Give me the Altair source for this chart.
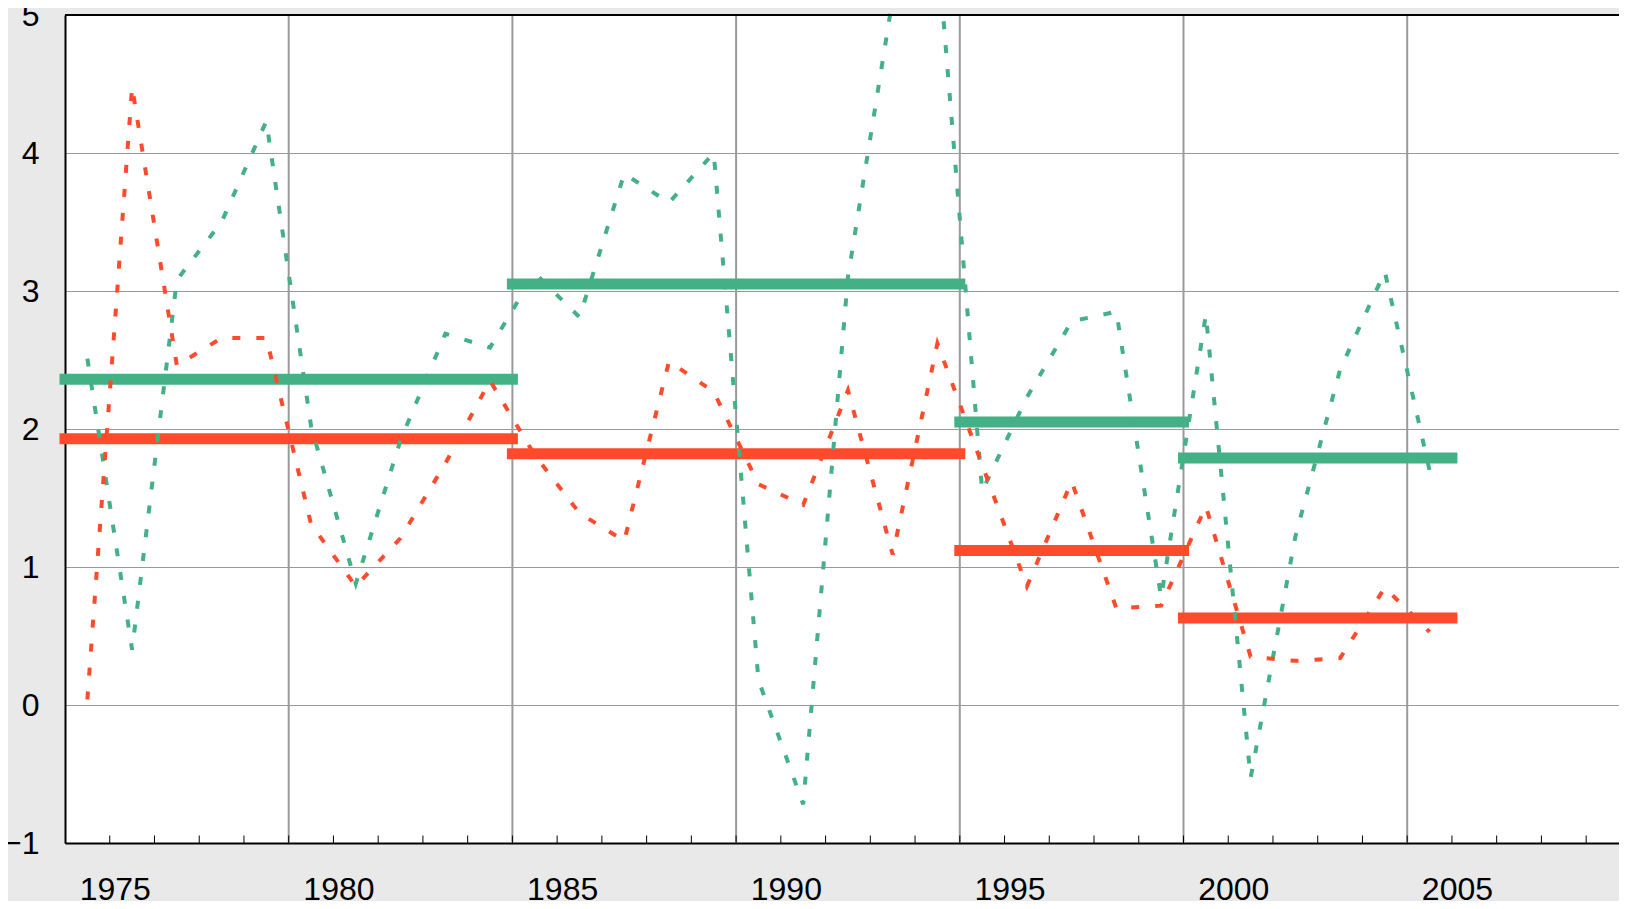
import altair as alt
import pandas as pd

# ---- data ----
years = [1974.5 + i for i in range(31)]
green_series = [2.51, 0.40, 3.08, 3.50, 4.23, 2.02, 0.88, 1.92, 2.69, 2.59,
                3.13, 2.81, 3.85, 3.64, 4.00, 0.18, -0.72, 3.10, 5.12, 5.50,
                1.55, 2.23, 2.78, 2.85, 0.78, 2.83, -0.53, 1.22, 2.43, 3.14, 1.70]
red_series = [0.04, 4.48, 2.46, 2.66, 2.66, 1.31, 0.86, 1.21, 1.75, 2.35,
              1.81, 1.39, 1.19, 2.49, 2.27, 1.60, 1.45, 2.28, 1.09, 2.62,
              1.74, 0.86, 1.62, 0.70, 0.72, 1.44, 0.35, 0.32, 0.34, 0.85, 0.53]

period_start = [1974, 1984, 1994, 1999]
period_end = [1984, 1994, 1999, 2005]
green_mean = [2.36, 3.05, 2.05, 1.79]
red_mean = [1.93, 1.82, 1.12, 0.63]

label_years = [1975, 1980, 1985, 1990, 1995, 2000, 2005]
grid_years = [1979, 1984, 1989, 1994, 1999, 2004]
minor_years = list(range(1975, 2009))
y_ticks = [-1, 0, 1, 2, 3, 4, 5]

GREEN = "#44b085"
RED = "#ff4b2b"
FONT = "Liberation Sans"

PX_PER_YEAR = 44.74
W = 1554
H = 828
X_MAX = 1974 + W / PX_PER_YEAR

xscale = alt.Scale(domain=[1974, X_MAX], nice=False, zero=False)
yscale = alt.Scale(domain=[-1, 5], nice=False, zero=False)

lines_df = pd.DataFrame({"year": years, "green": green_series, "red": red_series})
bars_df = pd.DataFrame({"start": period_start, "end": period_end,
                        "green": green_mean, "red": red_mean})
grid_df = pd.DataFrame({"year": grid_years})
minor_df = pd.DataFrame({"year": minor_years})

xaxis = alt.Axis(values=label_years, format="d", grid=False, ticks=False,
                 labelFontSize=32, labelFont=FONT, labelColor="black",
                 labelPadding=31, labelOffset=5, labelFlush=False,
                 labelOverlap=False, domainColor="black", domainWidth=2,
                 title=None)
yaxis = alt.Axis(values=y_ticks, format="d", grid=True, gridColor="#999999",
                 gridWidth=1, ticks=False, labelFontSize=32, labelFont=FONT,
                 labelColor="black", labelPadding=26, labelFlush=False,
                 domainColor="black", domainWidth=2, title=None)

base_x = alt.X("year:Q", scale=xscale, axis=xaxis)

vgrid = alt.Chart(grid_df).mark_rule(color="#9a9a9a", strokeWidth=2).encode(
    x=alt.X("year:Q", scale=xscale, axis=xaxis)
)

minor = alt.Chart(minor_df).mark_rule(color="black", strokeWidth=1, y2Offset=-7.5).encode(
    x=alt.X("year:Q", scale=xscale, axis=xaxis),
    y=alt.datum(-1, scale=yscale, axis=yaxis),
    y2=alt.datum(-1),
)

green_bar = alt.Chart(bars_df).mark_rule(color=GREEN, strokeWidth=11, strokeCap="square").encode(
    x=alt.X("start:Q", scale=xscale, axis=xaxis), x2="end:Q",
    y=alt.Y("green:Q", scale=yscale, axis=yaxis),
)
red_bar = alt.Chart(bars_df).mark_rule(color=RED, strokeWidth=11, strokeCap="square").encode(
    x=alt.X("start:Q", scale=xscale, axis=xaxis), x2="end:Q",
    y=alt.Y("red:Q", scale=yscale, axis=yaxis),
)

green_line = alt.Chart(lines_df).mark_line(color=GREEN, strokeWidth=4, strokeDash=[8, 16]).encode(
    x=base_x, y=alt.Y("green:Q", scale=yscale, axis=yaxis)
)
red_line = alt.Chart(lines_df).mark_line(color=RED, strokeWidth=4, strokeDash=[8, 16]).encode(
    x=base_x, y=alt.Y("red:Q", scale=yscale, axis=yaxis)
)

top_border = alt.Chart(grid_df).mark_rule(color="black", strokeWidth=2).encode(
    y=alt.datum(5, scale=yscale, axis=yaxis)
)

chart = alt.layer(
    vgrid, minor, green_bar, red_bar, green_line, red_line, top_border
).properties(
    width=W, height=H,
    background="#e9e9e9",
    padding={"left": 57, "top": 7, "right": 0, "bottom": 58},
    autosize=alt.AutoSizeParams(type="none"),
).configure_view(fill="white", stroke=None)

chart.save("out.html", embed_options={"renderer": "svg", "actions": False})
